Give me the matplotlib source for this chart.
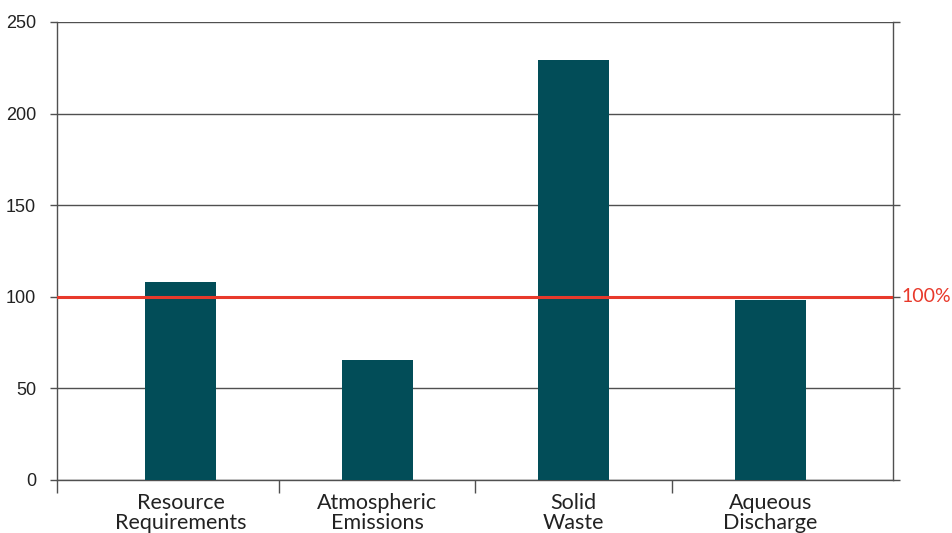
import matplotlib
matplotlib.use("Agg")
import matplotlib.pyplot as plt
from matplotlib.ticker import FixedLocator

categories = ["Resource\nRequirements", "Atmospheric\nEmissions", "Solid\nWaste", "Aqueous\nDischarge"]
values = [108, 65.5, 229.5, 98]
reference_value = 100
reference_label = "100%"
yticks = [0, 50, 100, 150, 200, 250]

bar_color = "#024D58"
red = "#E8392B"
grid_color = "#505050"

fig = plt.figure(figsize=(9.53, 5.33), dpi=100)
ax = fig.add_axes([57/953, 53/533, (893-57)/953, (480-22)/533])

x = list(range(len(categories)))
ax.bar(x, values, width=0.36, color=bar_color, zorder=3)
ax.set_xlim(-0.628, 3.623)
ax.set_ylim(0, 250)

ax.set_yticks(yticks)
ax.set_yticklabels([str(t) for t in yticks], fontsize=13, family="Liberation Sans", color="#222222")
ax.yaxis.grid(True, color=grid_color, linewidth=1.0, zorder=1)
ax.tick_params(axis="y", which="major", length=5, width=1, color=grid_color, pad=10,
               right=True, direction="out")

ax.axhline(reference_value, color=red, linewidth=2.2, zorder=4)
ax.text(1.01, reference_value, reference_label, transform=ax.get_yaxis_transform(),
        color=red, fontsize=14, family="Lato", va="center", ha="left")

# category boundary ticks
ax.xaxis.set_major_locator(FixedLocator([-0.628, 0.5, 1.5, 2.5]))
ax.xaxis.set_major_formatter(plt.NullFormatter())
ax.tick_params(axis="x", which="major", length=9, width=1, color=grid_color, direction="out")
ax.xaxis.set_minor_locator(FixedLocator(x))
ax.set_xticklabels(categories, minor=True, fontsize=15.5, family="Lato", color="#222222",
                   linespacing=1.0)
ax.tick_params(axis="x", which="minor", length=0, pad=9.5)

for s in ["left", "right", "bottom"]:
    ax.spines[s].set_color(grid_color)
    ax.spines[s].set_linewidth(1.0)
ax.spines["top"].set_visible(False)

fig.savefig("out.png", dpi=100)
